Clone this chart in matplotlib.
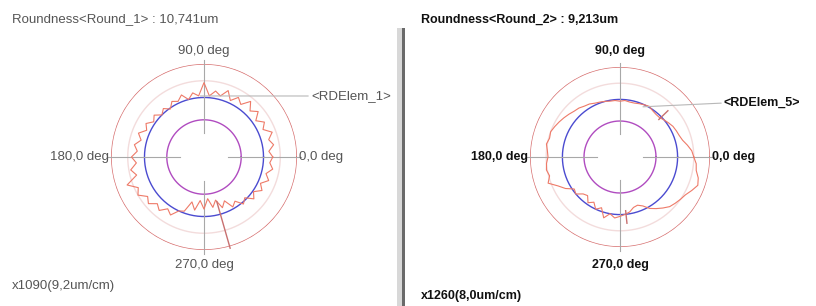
import numpy as np
import matplotlib
matplotlib.use('Agg')
import matplotlib.pyplot as plt
from matplotlib.patches import Rectangle

plt.rcParams['font.family'] = ['Liberation Sans', 'DejaVu Sans']

W, H = 816, 306

# profile angles (deg) and radii (relative to outer circle = 1)
angles = list(range(0, 360, 5))

profile_1 = [0.74, 0.70, 0.76, 0.72, 0.78, 0.70, 0.75, 0.68, 0.76, 0.70, 0.78, 0.69,
             0.74, 0.67, 0.76, 0.68, 0.72, 0.66, 0.80, 0.66, 0.70, 0.64, 0.71, 0.66,
             0.69, 0.63, 0.68, 0.64, 0.70, 0.66, 0.72, 0.68, 0.75, 0.70, 0.76, 0.72,
             0.78, 0.73, 0.80, 0.75, 0.88, 0.78, 0.82, 0.74, 0.78, 0.71, 0.75, 0.68,
             0.72, 0.64, 0.62, 0.50, 0.58, 0.47, 0.56, 0.45, 0.55, 0.48, 0.58, 0.52,
             0.62, 0.58, 0.66, 0.62, 0.70, 0.65, 0.72, 0.67, 0.74, 0.69, 0.75, 0.71]

profile_2 = [0.82, 0.80, 0.76, 0.72, 0.70, 0.69, 0.68, 0.66, 0.64, 0.62, 0.62, 0.63,
             0.65, 0.64, 0.63, 0.62, 0.62, 0.63, 0.62, 0.63, 0.63, 0.64, 0.65, 0.66,
             0.68, 0.69, 0.71, 0.72, 0.74, 0.76, 0.78, 0.80, 0.82, 0.81, 0.83, 0.81,
             0.80, 0.82, 0.83, 0.81, 0.85, 0.76, 0.70, 0.62, 0.64, 0.58, 0.56, 0.62,
             0.58, 0.64, 0.60, 0.70, 0.64, 0.68, 0.66, 0.64, 0.62, 0.58, 0.57, 0.60,
             0.66, 0.70, 0.74, 0.78, 0.80, 0.82, 0.84, 0.88, 0.92, 0.90, 0.86, 0.85]

# peak / valley marker angles (deg)
marks_1 = [286]
marks_2 = [44, 276]

# reference circles: outer, mid grid, blue, magenta
ring_radii = [1.0, 0.82, 0.64, 0.40]
ring_colors = ['#d66d6d', '#f3dcdc', '#4b4bd0', '#b04cc0']

panels = [
    dict(cx=204, cy=157, R=93, prof=profile_1, marks=marks_1, mark_r=(0.5, 1.02),
         title='Roundness<Round_1> : 10,741um', scale='x1090(9,2um/cm)',
         elem='<RDElem_1>', elem_ang=96, elem_r=0.66, elem_y=96,
         color='#555555', weight='normal', size=9.5, tx=12, ty=19, sy=286),
    dict(cx=620, cy=157, R=90, prof=profile_2, marks=marks_2, mark_r=(0.6, 0.74),
         title='Roundness<Round_2> : 9,213um', scale='x1260(8,0um/cm)',
         elem='<RDElem_5>', elem_ang=68, elem_r=0.60, elem_y=103,
         color='#111111', weight='bold', size=9, tx=421, ty=20, sy=296),
]

fig = plt.figure(figsize=(W / 100, H / 100), dpi=100)

theta = np.linspace(0, 2 * np.pi, 361)
for p in panels:
    cx, cy, R = p['cx'], p['cy'], p['R']
    ax = fig.add_axes([(cx - R) / W, 1 - (cy + R) / H, 2 * R / W, 2 * R / H],
                      projection='polar')
    ax.set_ylim(0, 1)
    ax.set_xticks([])
    ax.set_yticks([])
    ax.grid(False)
    ax.spines['polar'].set_visible(False)
    ax.patch.set_alpha(0)

    for r, c in zip(ring_radii, ring_colors):
        ax.plot(theta, np.full_like(theta, r), color=c, lw=1.0)

    for a in [0, 90, 180, 270]:
        ax.plot([np.deg2rad(a)] * 2, [0.26, 1.04], color='#a8a8a8', lw=0.8,
                clip_on=False)

    th = np.deg2rad(angles + [angles[0]])
    rr = p['prof'] + [p['prof'][0]]
    ax.plot(th, rr, color='#ee7a68', lw=0.8)

    for m in p['marks']:
        ax.plot([np.deg2rad(m)] * 2, list(p['mark_r']), color='#c87070',
                lw=1.0, clip_on=False)

    # leader line to element label
    ax.annotate('', xy=(np.deg2rad(p['elem_ang']), p['elem_r']),
                xytext=((cx + R + 14) / W, 1 - p['elem_y'] / H),
                textcoords='figure fraction',
                arrowprops=dict(arrowstyle='-', color='#b8b8b8', lw=0.8))

    kw = dict(color=p['color'], fontsize=p['size'], fontweight=p['weight'],
              va='center')
    fig.text(p['tx'] / W, 1 - p['ty'] / H, p['title'], ha='left', **kw)
    fig.text(cx / W, 1 - 51 / H, '90,0 deg', ha='center', **kw)
    fig.text(cx / W, 1 - 265 / H, '270,0 deg', ha='center', **kw)
    fig.text((cx - R - 2) / W, 1 - cy / H, '180,0 deg', ha='right', **kw)
    fig.text((cx + R + 2) / W, 1 - cy / H, '0,0 deg', ha='left', **kw)
    fig.text((cx + R + 14) / W, 1 - p['elem_y'] / H, p['elem'], ha='left', **kw)
    fig.text(p['tx'] / W, 1 - p['sy'] / H, p['scale'], ha='left', **kw)

# panel separator
fig.add_artist(Rectangle((397 / W, 0), 5 / W, (H - 28) / H,
                         transform=fig.transFigure, color='#d8d8d8', lw=0))
fig.add_artist(Rectangle((402 / W, 0), 3 / W, (H - 28) / H,
                         transform=fig.transFigure, color='#6a6a6a', lw=0))

fig.savefig('out.png', dpi=100)
